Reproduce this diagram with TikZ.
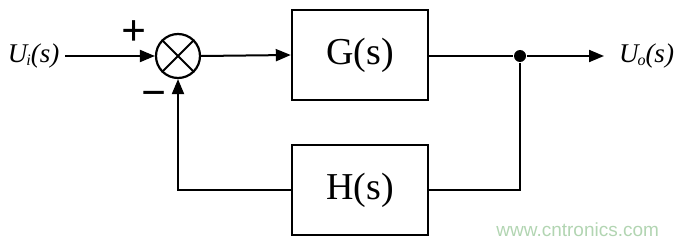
\documentclass[tikz,border=0pt]{standalone}
\usepackage{fontspec}
\setmainfont{Liberation Serif}
\newfontfamily\wmfont{Liberation Sans}
\usetikzlibrary{arrows.meta}
\begin{document}
\begin{tikzpicture}[x=1pt,y=-1pt,
  line width=2pt,
  arr/.style={-{Triangle[length=15pt,width=12pt]}},
  blockbox/.style={draw,line width=2.4pt,minimum width=136pt,minimum height=90pt,inner sep=0pt,font=\fontsize{38}{40}\selectfont},
  sig/.style={font=\fontsize{27}{30}\selectfont\itshape,inner sep=0pt},
  sgn/.style={font=\fontsize{44}{46}\selectfont\bfseries,inner sep=0pt}]
\useasboundingbox (0,0) rectangle (680,246);
\node[blockbox] (G) at (360,55) {G(s)};
\node[blockbox] (H) at (360,190) {H(s)};
\node[draw,line width=2.2pt,circle,minimum size=44pt,inner sep=0pt] (sum) at (178,56) {};
\draw (sum.north west) -- (sum.south east) (sum.north east) -- (sum.south west);
\node[sig,anchor=west] (uin) at (7,56) {U\kern-1pt\raisebox{-3pt}{\fontsize{16}{17}\selectfont\itshape i}(s)};
\node[sig,anchor=west] (uout) at (618,56) {U\kern-1pt\raisebox{-3pt}{\fontsize{16}{17}\selectfont\itshape o}(s)};
\coordinate (inS) at (65,56);
\node[circle,fill,inner sep=0pt,minimum size=12pt] (dot) at (520,56) {};
\coordinate (outE) at (604,56);
\coordinate (fbR) at (520,190);
\coordinate (fbL) at (178,190);
\node[sgn] (plus) at (134,33) {+};
\node[sgn] (minus) at (154,99) {−};
\draw[arr] (inS) -- (sum.west);
\draw[arr] (sum.east) -- (G.west);
\draw (G.east |- dot) -- (dot);
\draw[arr] (dot) -- (outE);
\draw (dot) -- (fbR) -- (H.east |- fbR);
\draw[arr] (H.west |- fbL) -- (fbL) -- (sum.south);
\node[font=\wmfont\fontsize{19}{20}\selectfont,text=green!45!black!30!white,anchor=east,inner sep=0pt] (wm) at (660,230) {www.cntronics.com};
\end{tikzpicture}
\end{document}
